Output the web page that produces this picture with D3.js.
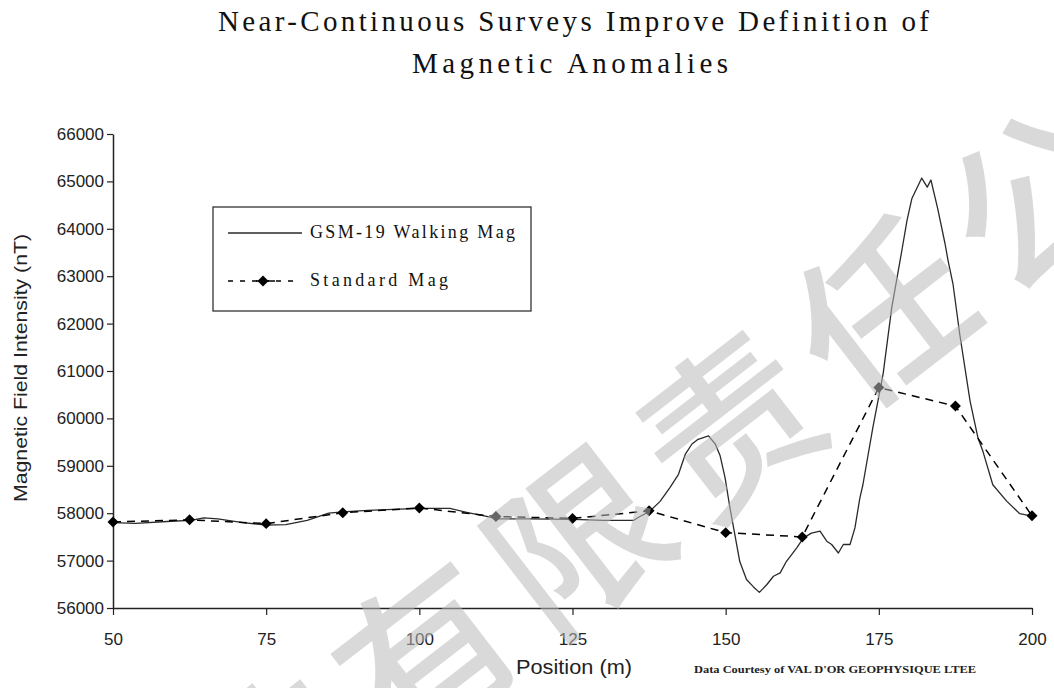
<!DOCTYPE html>
<html>
<head>
<meta charset="utf-8">
<script src="https://cdn.jsdelivr.net/npm/d3@7"></script>
<style>
  body { margin: 0; background: #fff; }
  svg { display: block; }
</style>
</head>
<body>
<svg id="plot" width="1054" height="688"></svg>
<script>
// GSM-19 walking mag profile (position m, field nT)
const walkPos = [50.0, 53.7, 59.5, 62.7, 64.8, 67.1, 71.2, 75.1, 78.2, 81.7, 85.2, 87.5, 91.6, 95.7,
  100.2, 105.0, 107.9, 110.8, 112.7, 117.8, 125.1, 130.1, 135.0, 136.0, 137.6, 139.3, 140.9, 142.3,
  143.4, 144.5, 145.5, 147.2, 148.3, 149.1, 149.9, 150.7, 151.5, 152.3, 153.4, 154.5, 155.5, 156.7,
  157.8, 158.9, 159.9, 161.6, 162.7, 164.0, 165.4, 166.5, 167.3, 168.4, 169.2, 170.3, 171.1, 171.9,
  172.4, 174.0, 175.7, 177.1, 178.7, 179.6, 180.4, 182.0, 182.9, 183.5, 184.6, 185.8, 186.3, 187.1,
  188.2, 189.9, 191.2, 192.0, 193.6, 195.9, 198.0, 200.0];
const walkVal = [57800, 57785, 57830, 57850, 57900, 57880, 57800, 57750, 57760, 57850, 58000, 58030, 58060, 58080,
  58100, 58100, 58010, 57940, 57880, 57880, 57870, 57850, 57850, 57930, 58040, 58250, 58540, 58820,
  59240, 59460, 59560, 59630, 59460, 59210, 58750, 58110, 57550, 56980, 56600, 56450, 56330, 56490,
  56670, 56740, 56980, 57270, 57480, 57580, 57620, 57410, 57340, 57160, 57340, 57340, 57690, 58320,
  58600, 59790, 60940, 62330, 63500, 64180, 64640, 65070, 64880, 65030, 64430, 63690, 63330, 62840,
  61780, 60360, 59580, 59300, 58600, 58250, 57990, 57940];

// standard mag readings every 12.5 m
const stdPos = [50, 62.5, 75, 87.5, 100, 112.5, 125, 137.5, 150, 162.5, 175, 187.5, 200];
const stdVal = [57815, 57860, 57780, 58010, 58110, 57930, 57890, 58050, 57590, 57500, 60650, 60260, 57945];

const xTicks = [50, 75, 100, 125, 150, 175, 200];
const yTicks = [56000, 57000, 58000, 59000, 60000, 61000, 62000, 63000, 64000, 65000, 66000];

const seriesNames = ["GSM-19 Walking Mag", "Standard Mag"];
const watermark = "技有限责任公司";

const walkData = walkPos.map((p, i) => ({ p, v: walkVal[i] }));
const stdData = stdPos.map((p, i) => ({ p, v: stdVal[i] }));

const svg = d3.select("#plot");

const x = d3.scaleLinear().domain([50, 200]).range([113, 1032]);
const y = d3.scaleLinear().domain([56000, 66000]).range([608, 134]);

const tickFont = "'Liberation Sans Narrow', 'Arial Narrow', 'Liberation Sans', Arial, sans-serif";
const serif = "'Liberation Serif', 'Times New Roman', serif";

// title
const title = svg.append("g").attr("font-family", serif).attr("font-size", 29).attr("fill", "#111");
title.append("text").attr("x", 218).attr("y", 31)
  .attr("textLength", 711).attr("lengthAdjust", "spacing")
  .text("Near-Continuous Surveys Improve Definition of");
title.append("text").attr("x", 412).attr("y", 73)
  .attr("textLength", 316).attr("lengthAdjust", "spacing")
  .text("Magnetic Anomalies");

// axes
const xAxis = svg.append("g")
  .attr("transform", `translate(0,${y(56000)})`)
  .call(d3.axisBottom(x).tickValues(xTicks).tickSize(7).tickSizeOuter(0).tickPadding(18));

const yAxis = svg.append("g")
  .attr("transform", `translate(${x(50)},0)`)
  .call(d3.axisLeft(y).tickValues(yTicks).tickSize(6).tickSizeOuter(0).tickPadding(3).tickFormat(d3.format("d")));

[xAxis, yAxis].forEach(a => {
  a.select(".domain").attr("stroke", "#222").attr("stroke-width", 1.5);
  a.selectAll(".tick line").attr("stroke", "#222").attr("stroke-width", 1.2);
  a.selectAll(".tick text").attr("font-family", tickFont).attr("font-size", 17).attr("fill", "#222");
});

// axis titles
svg.append("text")
  .attr("transform", "translate(27,368) rotate(-90)")
  .attr("text-anchor", "middle")
  .attr("textLength", 268).attr("lengthAdjust", "spacingAndGlyphs")
  .attr("font-family", "'Liberation Sans', Arial, sans-serif")
  .attr("font-size", 19).attr("fill", "#222")
  .text("Magnetic Field Intensity (nT)");

svg.append("text")
  .attr("x", 516).attr("y", 674)
  .attr("textLength", 116).attr("lengthAdjust", "spacingAndGlyphs")
  .attr("font-family", tickFont).attr("font-size", 21).attr("fill", "#222")
  .text("Position (m)");

svg.append("text")
  .attr("x", 694).attr("y", 673)
  .attr("textLength", 282).attr("lengthAdjust", "spacingAndGlyphs")
  .attr("font-family", serif).attr("font-weight", "bold").attr("font-size", 10).attr("fill", "#222")
  .text("Data Courtesy of VAL D'OR GEOPHYSIQUE LTEE");

// lines
const line = d3.line().x(d => x(d.p)).y(d => y(d.v));

svg.append("path")
  .datum(walkData)
  .attr("fill", "none")
  .attr("stroke", "#2a2a2a")
  .attr("stroke-width", 1.3)
  .attr("stroke-linejoin", "round")
  .attr("d", line);

svg.append("path")
  .datum(stdData)
  .attr("fill", "none")
  .attr("stroke", "#000")
  .attr("stroke-width", 1.5)
  .attr("stroke-dasharray", "8,6")
  .attr("d", line);

const diamond = d3.symbol().type(d3.symbolSquare).size(60);

svg.selectAll(".std-pt")
  .data(stdData)
  .enter()
  .append("path")
  .attr("class", "std-pt")
  .attr("transform", d => `translate(${x(d.p)},${y(d.v)}) rotate(45)`)
  .attr("d", diamond)
  .attr("fill", "#000");

// legend
const lg = svg.append("g");
lg.append("rect")
  .attr("x", 213).attr("y", 207).attr("width", 318).attr("height", 104)
  .attr("fill", "#fff").attr("stroke", "#333").attr("stroke-width", 1.3);

lg.append("line")
  .attr("x1", 228).attr("x2", 302).attr("y1", 233).attr("y2", 233)
  .attr("stroke", "#2a2a2a").attr("stroke-width", 1.3);
lg.append("line")
  .attr("x1", 228).attr("x2", 298).attr("y1", 281).attr("y2", 281)
  .attr("stroke", "#000").attr("stroke-width", 1.5).attr("stroke-dasharray", "5,7");
lg.append("line")
  .attr("x1", 256).attr("x2", 275).attr("y1", 281).attr("y2", 281)
  .attr("stroke", "#000").attr("stroke-width", 1.5);
lg.append("path")
  .attr("transform", "translate(263,281) rotate(45)")
  .attr("d", diamond).attr("fill", "#000");

lg.selectAll(".lg-text")
  .data(seriesNames)
  .enter()
  .append("text")
  .attr("x", 310)
  .attr("y", (d, i) => 238 + i * 48)
  .attr("textLength", (d, i) => i === 0 ? 205 : 138)
  .attr("lengthAdjust", "spacing")
  .attr("font-family", serif).attr("font-size", 18).attr("fill", "#111")
  .text(d => d);

// watermark on top
const wm = svg.append("g")
  .attr("font-family", "'Noto Sans CJK SC', sans-serif")
  .attr("font-size", 172)
  .attr("font-weight", 500)
  .attr("fill", "rgb(185,185,185)")
  .attr("fill-opacity", 0.55)
  .attr("pointer-events", "none");

wm.selectAll("text")
  .data(Array.from(watermark))
  .enter()
  .append("text")
  .attr("text-anchor", "middle")
  .attr("dominant-baseline", "central")
  .attr("transform", (d, i) => `translate(${268 + i * 152},${760 - i * 114}) rotate(-37.7)`)
  .text(d => d);
</script>
</body>
</html>
